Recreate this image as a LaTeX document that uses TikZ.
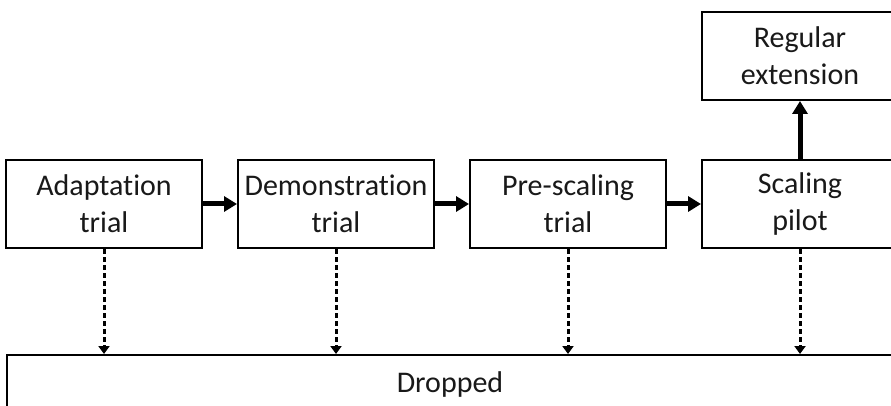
\documentclass[tikz,border=0pt]{standalone}
\usepackage{fontspec}
\setmainfont{Carlito}[Ligatures=NoCommon]
\usetikzlibrary{positioning,arrows.meta}

\begin{document}
\begin{tikzpicture}[x=1pt,y=1pt]
\tikzstyle{stage}=[draw=black,line width=2pt,fill=white,minimum width=196pt,minimum height=88pt,align=center,inner sep=0pt,text=black!90,font=\fontsize{30}{37}\selectfont]
\tikzstyle{flow}=[line width=5pt,-{Triangle[length=13pt,width=15pt]}]
\tikzstyle{drop}=[line width=3pt,dash pattern=on 5pt off 3pt,-{Triangle[length=8pt,width=11pt]}]
\clip (0,0) rectangle (891,-406);
\node [stage] (adapt) at (104,-204) {Adaptation\\trial};
\node [stage] (demo) at (336,-204) {Demonstration\\trial};
\node [stage] (prescale) at (568,-204) {Pre-scaling\\trial};
\node [stage] (pilot) at (800,-204) {Scaling\\pilot};
\node [stage] (regular) at (800,-56) {Regular\\extension};
\node [stage,minimum width=886pt,minimum height=58pt] (dropped) at (450,-384) {Dropped};
\draw [flow] (adapt) -- (demo);
\draw [flow] (demo) -- (prescale);
\draw [flow] (prescale) -- (pilot);
\draw [flow] (pilot) -- (regular);
\draw [drop] (adapt.south) -- (adapt.south |- dropped.north);
\draw [drop] (demo.south) -- (demo.south |- dropped.north);
\draw [drop] (prescale.south) -- (prescale.south |- dropped.north);
\draw [drop] (pilot.south) -- (pilot.south |- dropped.north);
\end{tikzpicture}
\end{document}
